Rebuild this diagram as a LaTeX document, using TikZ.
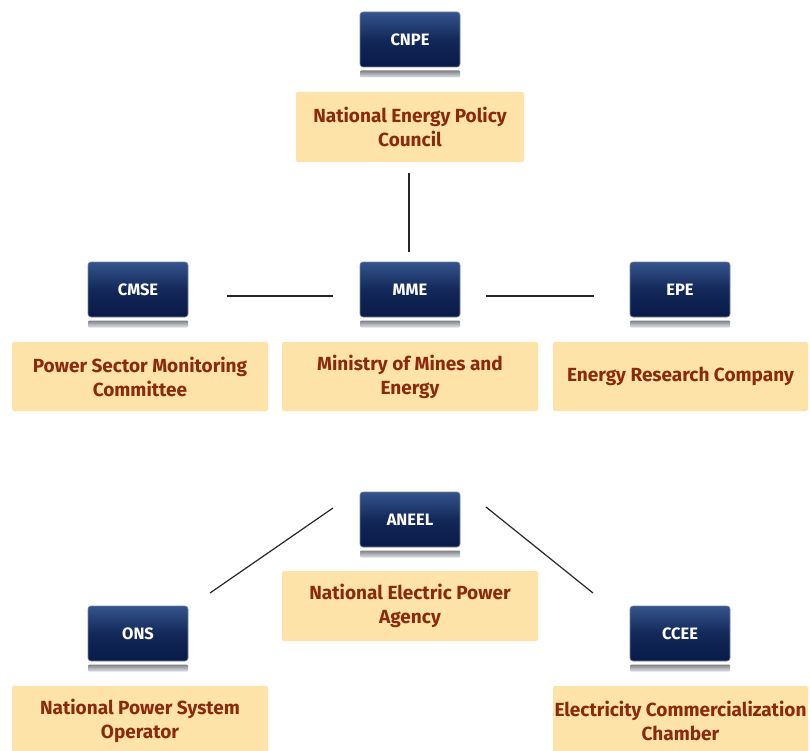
\documentclass[tikz,border=0pt]{standalone}
\usepackage{fontspec}
\setmainfont{Fira Sans}
\usetikzlibrary{shadings}
\definecolor{navytop}{HTML}{34548C}
\definecolor{navybot}{HTML}{081A48}
\definecolor{paleyel}{HTML}{FDE3A8}
\definecolor{txtred}{HTML}{8A2A0C}
\definecolor{shadowgray}{HTML}{B4B8C0}
\tikzset{
  x=1pt,y=-1pt,
  abbr/.style={minimum width=100pt,minimum height=55pt,rounded corners=3pt,
    top color=navytop,bottom color=navybot,middle color=navybot!75!navytop,
    draw=navybot!55!white,line width=0.6pt,text=white,font=\bfseries\fontsize{16.5}{18}\selectfont,inner sep=0pt},
  shadowbar/.style={top color=shadowgray!70!black,bottom color=shadowgray!40!white,rounded corners=1pt,draw=none,minimum width=100pt,minimum height=7pt,inner sep=0pt},
  fullname/.style={fill=paleyel,rounded corners=2pt,text=txtred,align=center,
    font=\bfseries\fontsize{19}{24}\selectfont,inner sep=0pt},
  link/.style={draw=black!85,line width=1.2pt}
}
\begin{document}
\begin{tikzpicture}
\useasboundingbox (0,0) rectangle (810,751);
% CNPE
\node[abbr] (cnpe) at (410,39.5) {CNPE};
\node[shadowbar] (cnpes) at (410,74) {};
\node[fullname,minimum width=228pt,minimum height=70pt] (cnpef) at (410,127) {National Energy Policy\\Council};
% CMSE
\node[abbr] (cmse) at (138,289.5) {CMSE};
\node[shadowbar] (cmses) at (138,324) {};
\node[fullname,minimum width=256pt,minimum height=69pt] (cmsef) at (140,376.5) {Power Sector Monitoring\\Committee};
% MME
\node[abbr] (mme) at (410,289.5) {MME};
\node[shadowbar] (mmes) at (410,324) {};
\node[fullname,minimum width=256pt,minimum height=69pt] (mmef) at (410,376.5) {Ministry of Mines and\\Energy};
% EPE
\node[abbr] (epe) at (680,289.5) {EPE};
\node[shadowbar] (epes) at (680,324) {};
\node[fullname,minimum width=255pt,minimum height=69pt] (epef) at (680.5,376.5) {Energy Research Company};
% ANEEL
\node[abbr] (aneel) at (410,519.5) {ANEEL};
\node[shadowbar] (aneels) at (410,554) {};
\node[fullname,minimum width=256pt,minimum height=70pt] (aneelf) at (410,606) {National Electric Power\\Agency};
% ONS
\node[abbr] (ons) at (138,633.5) {ONS};
\node[shadowbar] (onss) at (138,668) {};
\node[fullname,minimum width=256pt,minimum height=70pt] (onsf) at (140,721) {National Power System\\Operator};
% CCEE
\node[abbr] (ccee) at (680,633.5) {CCEE};
\node[shadowbar] (ccees) at (680,668) {};
\node[fullname,minimum width=255pt,minimum height=70pt] (cceef) at (680.5,721) {Electricity Commercialization\\Chamber};
% connector end points
\coordinate (v1) at (409,173);
\coordinate (v2) at (409,252);
\coordinate (h1a) at (227,296);
\coordinate (h1b) at (333,296);
\coordinate (h2a) at (486,296);
\coordinate (h2b) at (594,296);
\coordinate (d1a) at (333,508);
\coordinate (d1b) at (210,593);
\coordinate (d2a) at (486,507);
\coordinate (d2b) at (593,593);
\draw[link] (v1) -- (v2);
\draw[link] (h1a) -- (h1b);
\draw[link] (h2a) -- (h2b);
\draw[link] (d1a) -- (d1b);
\draw[link] (d2a) -- (d2b);
\end{tikzpicture}
\end{document}
